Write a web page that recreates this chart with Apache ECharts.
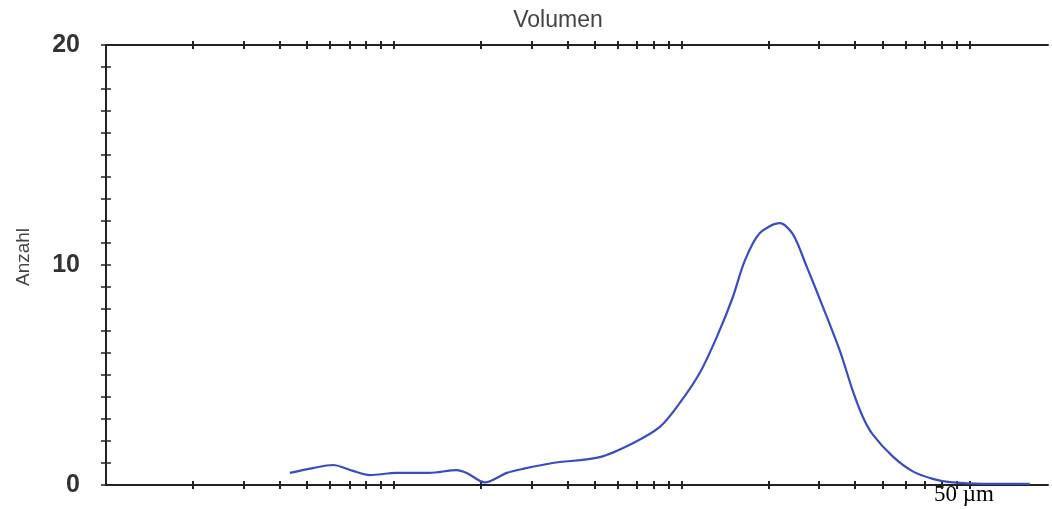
<!DOCTYPE html>
<html>
<head>
<meta charset="utf-8">
<script src="https://cdn.jsdelivr.net/npm/echarts@6/dist/echarts.min.js"></script>
<style>
html,body{margin:0;padding:0;background:#fff;}
#chart{width:1052px;height:509px;}
</style>
</head>
<body>
<div id="chart"></div>
<script>
// Particle size (log scale, arbitrary units) and count values
var sizes  = [4.35, 5.23, 6.14, 7.2, 8.26, 10.2, 13.3, 16.5, 17.9, 20.7, 24.7, 28.0, 35.6, 51.9, 67.6, 83.9, 98.4, 115.5, 133, 150, 165.5, 186.6, 219, 243, 272, 309, 354, 392, 425, 460, 540, 634, 744, 853, 1110, 1616];
var counts = [0.55, 0.77, 0.91, 0.64, 0.45, 0.55, 0.55, 0.68, 0.55, 0.12, 0.55, 0.73, 1.0, 1.27, 1.9, 2.64, 3.73, 5.1, 6.8, 8.5, 10.2, 11.45, 11.9, 11.4, 9.9, 8.1, 6.1, 4.3, 3.1, 2.3, 1.3, 0.62, 0.28, 0.13, 0.05, 0.05];
var xTickValues = [2,3,4,5,6,7,8,9,10,20,30,40,50,60,70,80,90,100,200,300,400,500,600,700,800,900,1000];
var yLabelValues = [0, 10, 20];
var titleText = 'Volumen';
var yName = 'Anzahl';
var unitText = '50 \u00b5m';

var xMin = 1, xMax = 1870;
var axisColor = '#222';

function xAx(pos, inside, showLine) {
  return {
    type: 'log', logBase: 10, min: xMin, max: xMax, position: pos,
    axisLine: {show: showLine, lineStyle: {color: axisColor, width: 2}},
    axisTick: {show: true, inside: inside, length: 4, customValues: xTickValues, lineStyle: {color: axisColor, width: 2}},
    axisLabel: {show: false},
    splitLine: {show: false}, minorTick: {show: false}
  };
}
function yAx(inside, showLine, showLabel) {
  return {
    type: 'value', min: 0, max: 20, interval: 1, position: 'left',
    axisLine: {show: showLine, lineStyle: {color: axisColor, width: 2}},
    axisTick: {show: true, inside: inside, length: 5, lineStyle: {color: axisColor, width: 1.5}},
    axisLabel: {
      show: showLabel, margin: 26, fontSize: 25, fontWeight: 'bold', color: '#333',
      fontFamily: 'Liberation Sans, Arial, sans-serif',
      formatter: function (v) { return yLabelValues.indexOf(v) >= 0 ? String(v) : ''; }
    },
    splitLine: {show: false}
  };
}

var chart = echarts.init(document.getElementById('chart'), null, {renderer: 'canvas'});
chart.setOption({
  backgroundColor: '#fff',
  animation: false,
  grid: {left: 106, right: 4, top: 45, bottom: 24, containLabel: false},
  xAxis: [xAx('bottom', false, true), xAx('bottom', true, false), xAx('top', false, true), xAx('top', true, false)],
  yAxis: [yAx(false, true, true), yAx(true, false, false)],
  graphic: [
    {type: 'text', x: 558, y: 21, style: {text: titleText, fontSize: 23, fill: '#444', align: 'center', verticalAlign: 'middle', fontFamily: 'Liberation Sans, Arial, sans-serif'}},
    {type: 'text', x: 24, y: 257, rotation: Math.PI / 2, style: {text: yName, fontSize: 19, fill: '#444', align: 'center', verticalAlign: 'middle', fontFamily: 'Liberation Sans, Arial, sans-serif'}},
    {type: 'text', x: 964, y: 495, style: {text: unitText, fontSize: 23, fill: '#000', align: 'center', verticalAlign: 'middle', fontFamily: 'Liberation Serif, Times New Roman, serif'}}
  ],
  series: [{
    type: 'line', xAxisIndex: 0, yAxisIndex: 0,
    data: sizes.map(function (s, i) { return [s, counts[i]]; }),
    smooth: 0.3, showSymbol: false,
    lineStyle: {color: '#3a4cc0', width: 2.2}
  }]
});
</script>
</body>
</html>
